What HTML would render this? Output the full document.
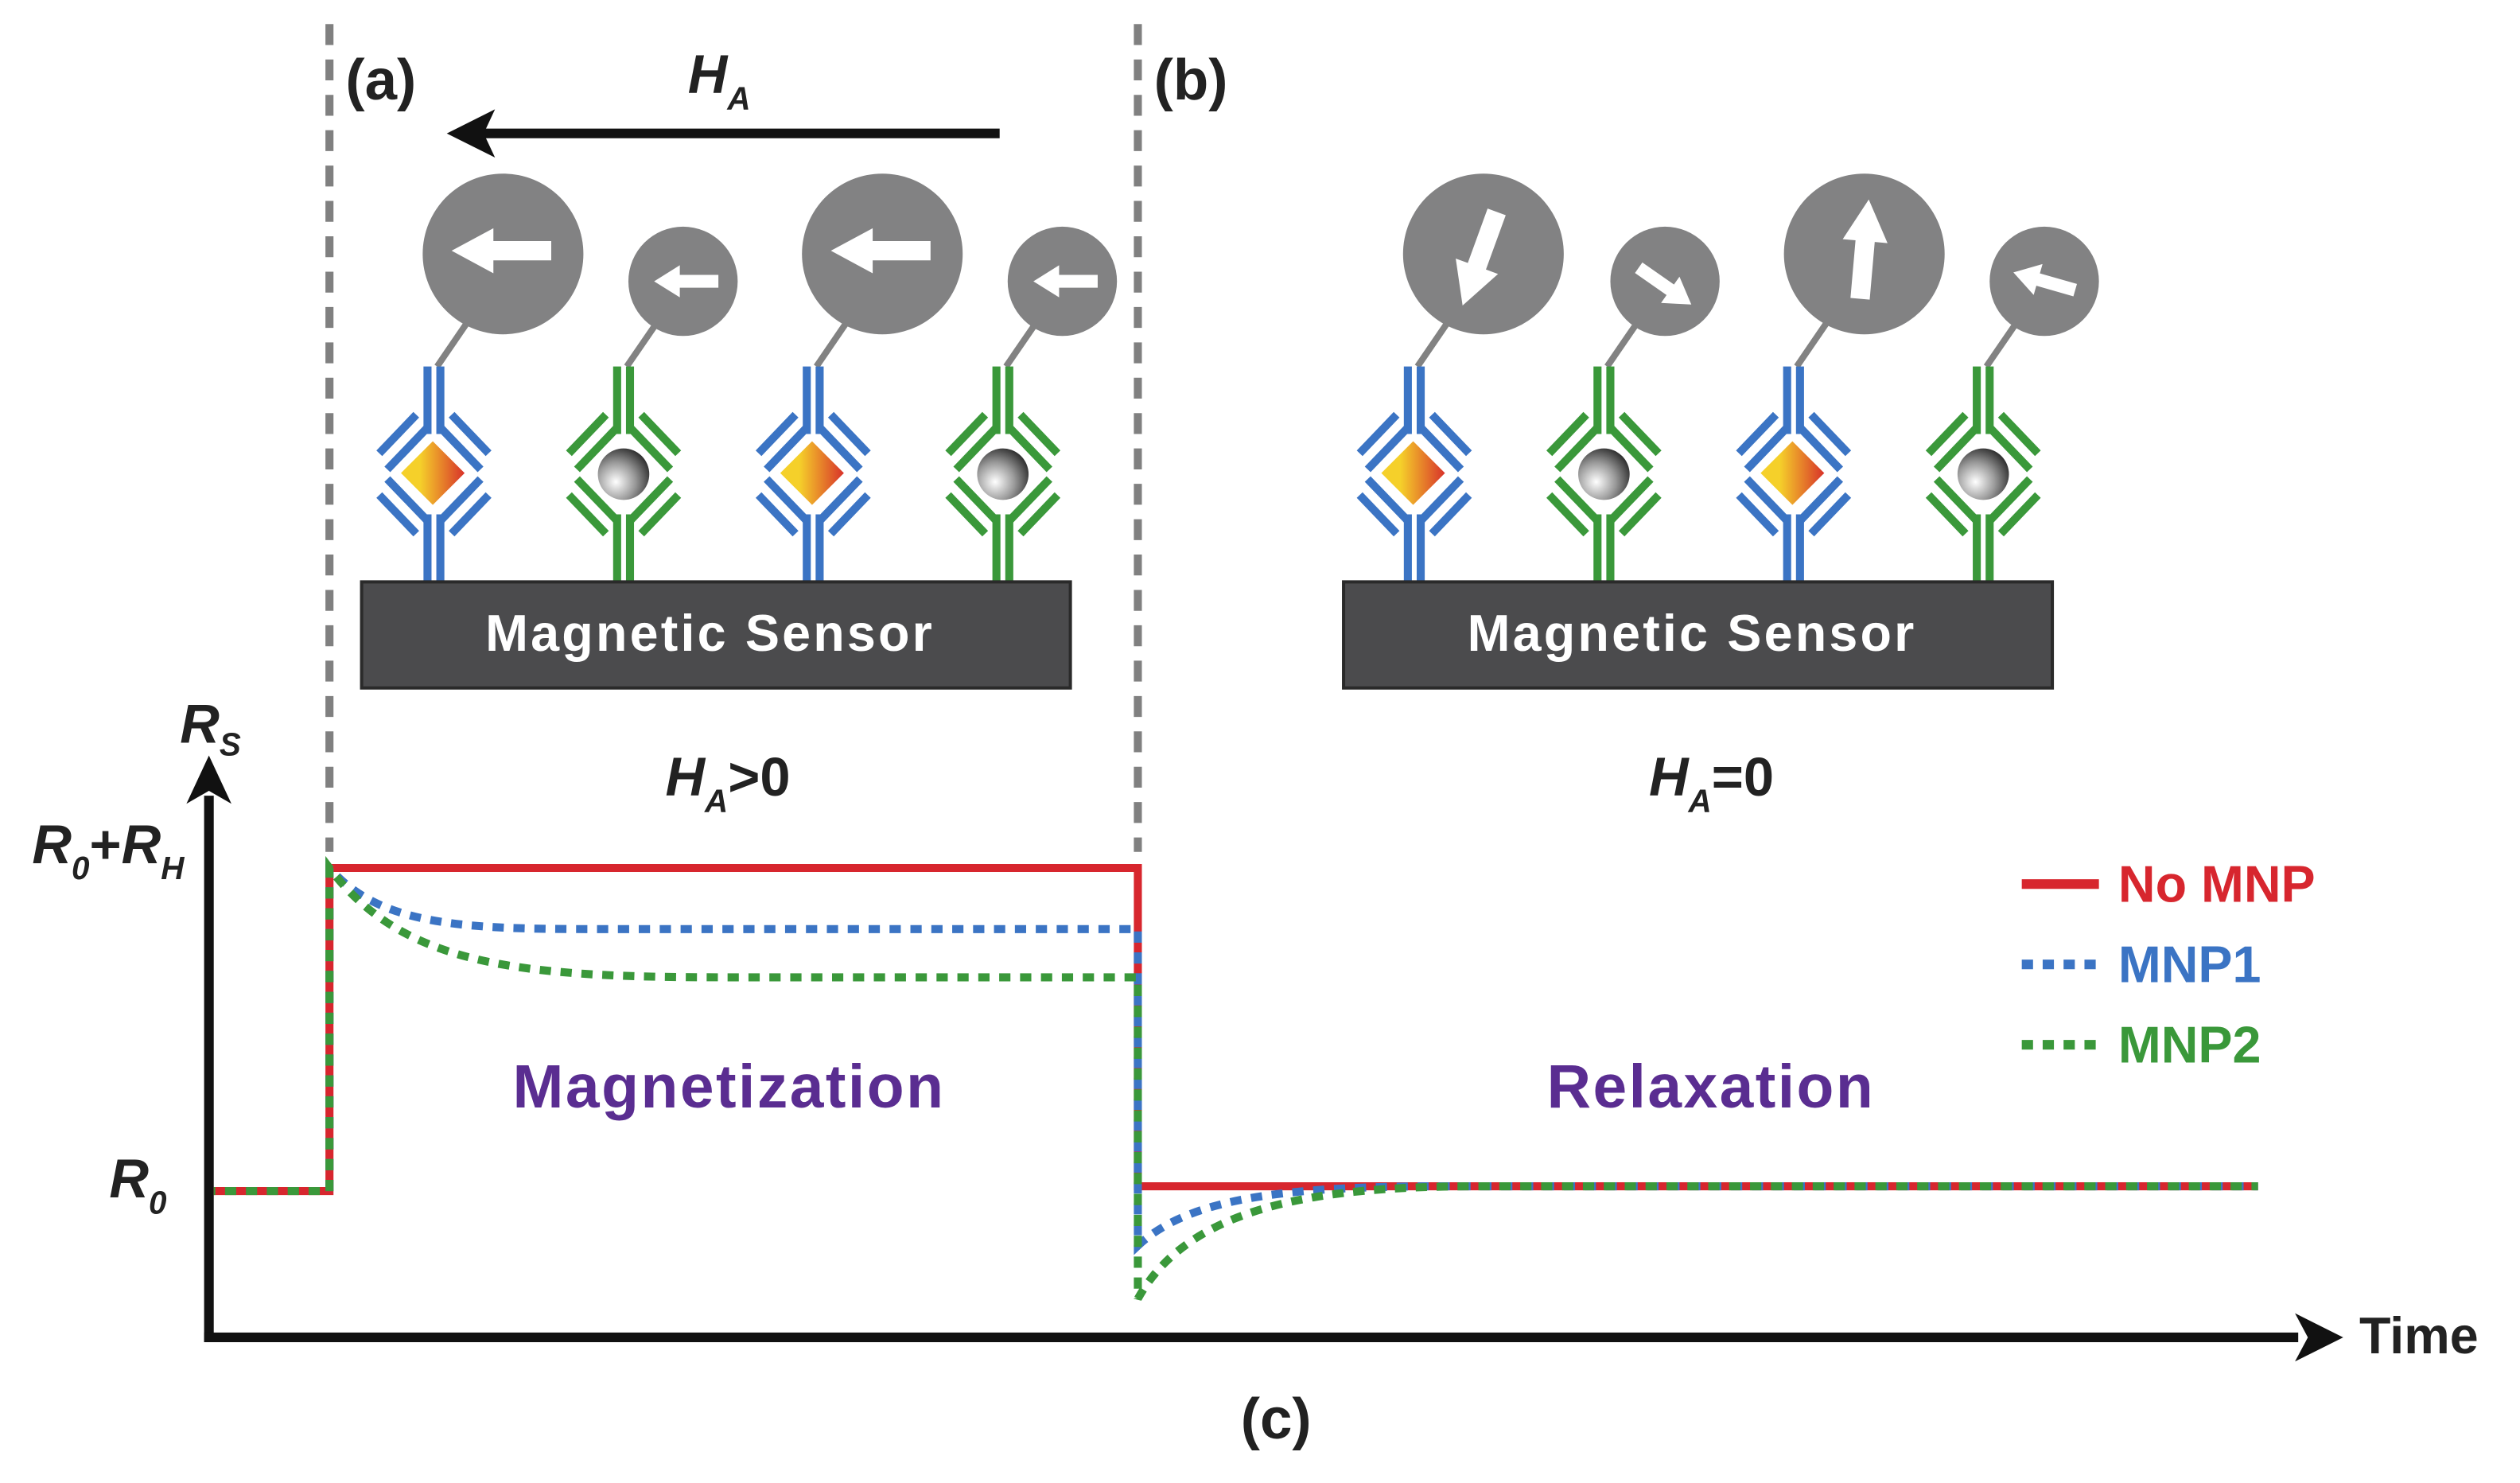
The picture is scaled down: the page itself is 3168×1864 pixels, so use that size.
<!DOCTYPE html>
<html><head><meta charset="utf-8">
<style>
html,body{margin:0;padding:0;background:#fff;}
svg{display:block;}
.n{font-family:"Liberation Sans Narrow","Liberation Sans",sans-serif;font-weight:bold;}
.w{font-family:"Liberation Sans",sans-serif;font-weight:bold;}
</style></head><body>
<svg width="3168" height="1864" viewBox="0 0 1568 922.6" preserveAspectRatio="none" xmlns="http://www.w3.org/2000/svg">
<defs>
<linearGradient id="dg" x1="0" y1="1" x2="1" y2="0">
<stop offset="0.3" stop-color="#f5d02a"/><stop offset="1" stop-color="#d8322a"/></linearGradient>
<radialGradient id="sg" cx="0.35" cy="0.65" r="0.75">
<stop offset="0" stop-color="#ffffff"/><stop offset="0.5" stop-color="#9a9a9a"/><stop offset="1" stop-color="#222"/></radialGradient>
<g id="abarms" fill="none" stroke-width="5" stroke-linecap="butt">
<line x1="-3" y1="228" x2="-3" y2="270"/><line x1="5" y1="228" x2="5" y2="270"/>
<line x1="-3" y1="320" x2="-3" y2="365"/><line x1="5" y1="320" x2="5" y2="365"/>
<line x1="-3" y1="266" x2="-28" y2="292"/><line x1="5" y1="266" x2="30" y2="292"/>
<line x1="-10" y1="258" x2="-33" y2="282"/><line x1="12" y1="258" x2="35" y2="282"/>
<line x1="-3" y1="324" x2="-28" y2="298"/><line x1="5" y1="324" x2="30" y2="298"/>
<line x1="-10" y1="332" x2="-33" y2="308"/><line x1="12" y1="332" x2="35" y2="308"/>
</g>
<g id="blueab"><use href="#abarms" stroke="#3b74c4"/>
<rect x="-14" y="281" width="28" height="28" fill="url(#dg)" transform="rotate(45 1 295)"/></g>
<g id="greenab"><use href="#abarms" stroke="#3a983a"/>
<circle cx="1" cy="295" r="16" fill="url(#sg)"/></g>
<polygon id="arrB" points="30,-6 -6,-6 -6,-14 -32,0 -6,14 -6,6 30,6" fill="#fff"/>
<polygon id="arrS" points="20,-4 -4,-4 -4,-10 -20,0 -4,10 -4,4 20,4" fill="#fff"/>
</defs>

<g stroke="#808080" stroke-width="5" stroke-dasharray="13,9">
<line x1="205" y1="15" x2="205" y2="530"/>
<line x1="708" y1="15" x2="708" y2="530"/>
</g>
<text x="215" y="62" class="n" font-size="36" fill="#222">(a)</text>
<text x="718" y="62" class="n" font-size="36" fill="#222">(b)</text>
<line x1="622" y1="83" x2="300" y2="83" stroke="#111" stroke-width="6"/>
<polygon points="278,83 308,68 301,83 308,98" fill="#111"/>
<text x="428" y="58" class="n" font-size="34" font-style="italic" fill="#222">H<tspan font-size="20" dy="10">A</tspan></text>

<g stroke="#828282" stroke-width="4" fill="none">
<line x1="272" y1="228" x2="298" y2="190"/><line x1="390" y1="228" x2="412" y2="196"/>
<line x1="508" y1="228" x2="534" y2="190"/><line x1="626" y1="228" x2="648" y2="196"/>
<line x1="882" y1="228" x2="908" y2="190"/><line x1="1000" y1="228" x2="1022" y2="196"/>
<line x1="1118" y1="228" x2="1144" y2="190"/><line x1="1236" y1="228" x2="1258" y2="196"/>
</g>
<g fill="#828283">
<ellipse cx="313" cy="158" rx="50" ry="50"/><ellipse cx="425" cy="175" rx="34" ry="34"/>
<ellipse cx="549" cy="158" rx="50" ry="50"/><ellipse cx="661" cy="175" rx="34" ry="34"/>
<ellipse cx="923" cy="158" rx="50" ry="50"/><ellipse cx="1036" cy="175" rx="34" ry="34"/>
<ellipse cx="1160" cy="158" rx="50" ry="50"/><ellipse cx="1272" cy="175" rx="34" ry="34"/>
</g>
<use href="#arrB" transform="translate(313,156)"/>
<use href="#arrS" transform="translate(427,175)"/>
<use href="#arrB" transform="translate(549,156)"/>
<use href="#arrS" transform="translate(663,175)"/>
<use href="#arrB" transform="translate(921,160) rotate(-70)"/>
<use href="#arrS" transform="translate(1036,178) rotate(-145)"/>
<use href="#arrB" transform="translate(1160,156) rotate(95)"/>
<use href="#arrS" transform="translate(1272,175) rotate(16)"/>

<use href="#blueab" transform="translate(269,0)"/>
<use href="#greenab" transform="translate(387,0)"/>
<use href="#blueab" transform="translate(505,0)"/>
<use href="#greenab" transform="translate(623,0)"/>
<use href="#blueab" transform="translate(879,0)"/>
<use href="#greenab" transform="translate(997,0)"/>
<use href="#blueab" transform="translate(1115,0)"/>
<use href="#greenab" transform="translate(1233,0)"/>

<rect x="225" y="362" width="441" height="66" fill="#4b4b4d" stroke="#2a2a2a" stroke-width="2"/>
<rect x="836" y="362" width="441" height="66" fill="#4b4b4d" stroke="#2a2a2a" stroke-width="2"/>
<text x="441" y="405" text-anchor="middle" class="w" font-size="32" fill="#fff" textLength="278">Magnetic Sensor</text>
<text x="1052" y="405" text-anchor="middle" class="w" font-size="32" fill="#fff" textLength="278">Magnetic Sensor</text>

<text x="414" y="495" class="n" font-size="34" font-style="italic" fill="#222">H<tspan font-size="20" dy="10">A</tspan><tspan dy="-10" font-style="normal">&gt;0</tspan></text>
<text x="1026" y="495" class="n" font-size="34" font-style="italic" fill="#222">H<tspan font-size="20" dy="10">A</tspan><tspan dy="-10" font-style="normal">=0</tspan></text>

<line x1="130" y1="835" x2="130" y2="495" stroke="#111" stroke-width="6"/>
<polygon points="130,470 116,500 130,492 144,500" fill="#111"/>
<line x1="127" y1="832" x2="1430" y2="832" stroke="#111" stroke-width="6"/>
<polygon points="1458,832 1428,817 1436,832 1428,847" fill="#111"/>
<text x="112" y="462" class="n" font-size="34" font-style="italic" fill="#222">R<tspan font-size="20" dy="8">S</tspan></text>
<text x="20" y="537" class="n" font-size="34" font-style="italic" fill="#222">R<tspan font-size="20" dy="10">0</tspan><tspan dy="-10" font-style="normal">+</tspan>R<tspan font-size="20" dy="10">H</tspan></text>
<text x="68" y="745" class="n" font-size="34" font-style="italic" fill="#222">R<tspan font-size="20" dy="10">0</tspan></text>
<text x="1468" y="842" class="n" font-size="32" fill="#222">Time</text>
<text x="772" y="895" class="n" font-size="36" fill="#222">(c)</text>

<g fill="none" stroke-width="5">
<path d="M133,741 H205 V540 H708 V738 H1405" stroke="#d7262e"/>
<path d="M205,741 V540 C240,580 300,578 400,578 H708 V775 C740,745 800,738 900,738 H1405" stroke="#3b74c4" stroke-dasharray="7,6"/>
<path d="M133,741 H205 V540 C250,600 320,608 450,608 H708 V808 C740,750 820,738 920,738 H1405" stroke="#3a983a" stroke-dasharray="7,6" stroke-dashoffset="6"/>
</g>
<text x="453" y="689" text-anchor="middle" class="n" font-size="38" fill="#5a2d91" textLength="268">Magnetization</text>
<text x="1064" y="689" text-anchor="middle" class="n" font-size="38" fill="#5a2d91" textLength="203">Relaxation</text>

<line x1="1258" y1="550" x2="1306" y2="550" stroke="#d7262e" stroke-width="6"/>
<line x1="1258" y1="600" x2="1306" y2="600" stroke="#3b74c4" stroke-width="6" stroke-dasharray="7,6"/>
<line x1="1258" y1="650" x2="1306" y2="650" stroke="#3a983a" stroke-width="6" stroke-dasharray="7,6"/>
<text x="1318" y="561" class="n" font-size="32" fill="#d7262e">No MNP</text>
<text x="1318" y="611" class="n" font-size="32" fill="#3b74c4">MNP1</text>
<text x="1318" y="661" class="n" font-size="32" fill="#3a983a">MNP2</text>
</svg>
</body></html>
